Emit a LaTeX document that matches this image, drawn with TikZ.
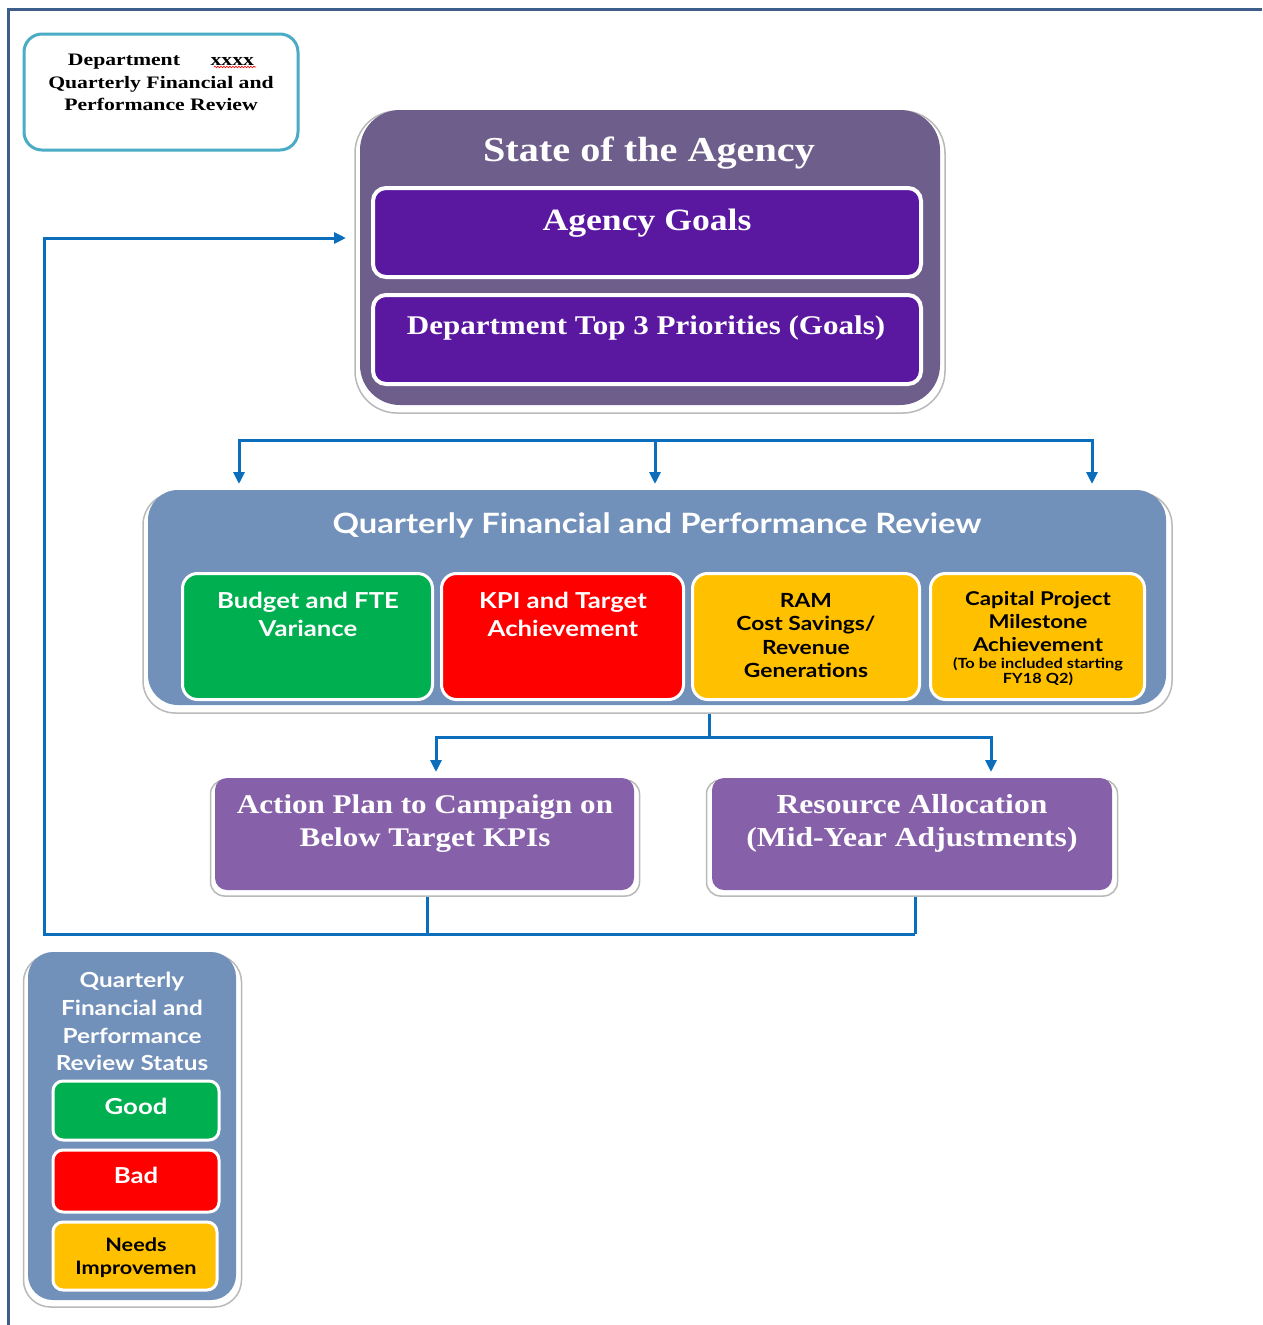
\documentclass[tikz,border=0pt]{standalone}
\usepackage{fontspec}
\setmainfont{Liberation Serif}[FakeStretch=1.15]
\newfontfamily\titleserif{Liberation Serif}[FakeStretch=1.24]
\newfontfamily\gillsans{Lato}[FakeStretch=1.17]
\usetikzlibrary{arrows.meta,decorations.pathmorphing}
\definecolor{frameblue}{HTML}{3D5D8A}
\definecolor{titleblue}{HTML}{4BACC6}
\definecolor{agencyout}{HTML}{6E5E8B}
\definecolor{goalpurple}{HTML}{5A179F}
\definecolor{steel}{HTML}{7190BA}
\definecolor{actpurple}{HTML}{8660A8}
\definecolor{conncol}{HTML}{0A6EBD}
\definecolor{goodgreen}{HTML}{00B050}
\definecolor{badred}{HTML}{FF0000}
\definecolor{needyellow}{HTML}{FFC000}
\tikzset{
  shadowbox/.style={draw=gray!55, line width=1.5pt, fill=white},
  inner/.style={draw=white, line width=4pt, rounded corners=13pt, inner sep=0pt},
  tile/.style={draw=white, line width=3pt, rounded corners=15pt, inner sep=0pt},
  serifw/.style={text=white, font=\bfseries},
  sansw/.style={text=white, font=\gillsans\bfseries},
  sansb/.style={text=black, font=\gillsans\bfseries},
  conn/.style={draw=conncol, line width=3pt},
  tip/.style={-{Triangle[width=11pt,length=12pt]}},
  tips/.style={{Triangle[width=11pt,length=12pt]}-{Triangle[width=11pt,length=12pt]}}
}
\begin{document}
\begin{tikzpicture}[x=1pt,y=-1pt]
\useasboundingbox[fill=white] (0,0) rectangle (1262,1325);
% page frame
\draw[frameblue, line width=3pt] (8,1325) -- (8,9) -- (1262,9);

% title box
\node[draw=titleblue, line width=3pt, rounded corners=18pt, minimum width=274pt, minimum height=116pt] (title) at (161,92) {};
\node[font=\titleserif\bfseries\fontsize{17.5}{22.5}\selectfont, align=center] (titletxt) at (161,82.5) {Department\hspace{1.75em}xxxx\\Quarterly Financial and\\Performance Review};
\coordinate (w1) at (214,67);
\coordinate (w2) at (256,67);
\draw[red, line width=0.6pt, decorate, decoration={snake, amplitude=0.8pt, segment length=3pt}] (w1) -- (w2);

% State of the agency
\node[shadowbox, rounded corners=42pt, minimum width=590pt, minimum height=302pt] (agencysh) at (650,262) {};
\node[fill=agencyout, rounded corners=40pt, minimum width=580pt, minimum height=295pt] (agency) at (650,257.5) {};
\node[serifw, font=\bfseries\fontsize{35}{40}\selectfont] (agencytxt) at (649,153) {State of the Agency};
\node[inner, fill=goalpurple, minimum width=548pt, minimum height=89pt] (goals) at (647,232.5) {};
\node[serifw, font=\bfseries\fontsize{31}{36}\selectfont] (goalstxt) at (647,223) {Agency Goals};
\node[inner, fill=goalpurple, minimum width=548pt, minimum height=89pt] (prio) at (647,339.5) {};
\node[serifw, font=\bfseries\fontsize{27}{32}\selectfont] (priotxt) at (646,328) {Department Top 3 Priorities (Goals)};

% QFPR
\node[shadowbox, rounded corners=32pt, minimum width=1029pt, minimum height=220pt] (qfprsh) at (657.5,603) {};
\node[fill=steel, rounded corners=30pt, minimum width=1018pt, minimum height=215pt] (qfpr) at (657,597.5) {};
\node[sansw, font=\gillsans\bfseries\fontsize{28}{32}\selectfont] (qfprtxt) at (657,525) {Quarterly Financial and Performance Review};
\node[tile, fill=goodgreen, minimum width=250pt, minimum height=126pt] (budget) at (307.5,636.5) {};
\node[sansw, font=\gillsans\bfseries\fontsize{22}{28}\selectfont, align=center] (budgettxt) at (308,614) {Budget and FTE\\Variance};
\node[tile, fill=badred, minimum width=242pt, minimum height=126pt] (kpi) at (562.5,636.5) {};
\node[sansw, font=\gillsans\bfseries\fontsize{22}{28}\selectfont, align=center] (kpitxt) at (563,614) {KPI and Target\\Achievement};
\node[tile, fill=needyellow, minimum width=227pt, minimum height=126pt] (ram) at (806,636.5) {};
\node[sansb, font=\gillsans\bfseries\fontsize{19.5}{23.6}\selectfont, align=center] (ramtxt) at (806,635.5) {RAM\\Cost Savings/\\Revenue\\Generations};
\node[tile, fill=needyellow, minimum width=214pt, minimum height=126pt] (cap) at (1037.5,636.5) {};
\node[sansb, font=\gillsans\bfseries\fontsize{19}{23}\selectfont, align=center] (captxt) at (1038,622) {Capital Project\\Milestone\\Achievement};
\node[sansb, font=\gillsans\bfseries\fontsize{14}{15}\selectfont, align=center] (capnote) at (1038,671.5) {(To be included starting\\FY18 Q2)};

% Action plan & resource allocation
\node[shadowbox, rounded corners=14pt, minimum width=429pt, minimum height=116pt] (actsh) at (425,838) {};
\node[fill=actpurple, rounded corners=12pt, minimum width=419pt, minimum height=112pt] (action) at (424.5,834) {};
\node[serifw, font=\bfseries\fontsize{27}{33}\selectfont, align=center] (actiontxt) at (425,824) {Action Plan to Campaign on\\Below Target KPIs};
\node[shadowbox, rounded corners=14pt, minimum width=411pt, minimum height=116pt] (ressh) at (912,838) {};
\node[fill=actpurple, rounded corners=12pt, minimum width=400pt, minimum height=112pt] (resource) at (912,834) {};
\node[serifw, font=\bfseries\fontsize{27.5}{33}\selectfont, align=center] (resourcetxt) at (912,823.5) {Resource Allocation\\(Mid-Year Adjustments)};

% Legend
\node[shadowbox, rounded corners=27pt, minimum width=218pt, minimum height=352pt] (legsh) at (132.5,1131) {};
\node[fill=steel, rounded corners=25pt, minimum width=208pt, minimum height=348pt] (legend) at (132,1126) {};
\node[sansw, font=\gillsans\bfseries\fontsize{20.8}{27.7}\selectfont, align=center] (legendtxt) at (132,1021.5) {Quarterly\\Financial and\\Performance\\Review Status};
\node[tile, rounded corners=10pt, fill=goodgreen, minimum width=166pt, minimum height=59pt] (good) at (136,1110.5) {};
\node[sansw, font=\gillsans\bfseries\fontsize{22}{26}\selectfont] (goodtxt) at (136,1106) {Good};
\node[tile, rounded corners=10pt, fill=badred, minimum width=166pt, minimum height=62pt] (bad) at (136,1181) {};
\node[sansw, font=\gillsans\bfseries\fontsize{22}{26}\selectfont] (badtxt) at (136,1175) {Bad};
\node[tile, rounded corners=10pt, fill=needyellow, minimum width=164pt, minimum height=68pt] (needs) at (135,1256) {};
\node[sansb, font=\gillsans\bfseries\fontsize{18.5}{23}\selectfont, align=center] (needstxt) at (136,1257.5) {Needs\\Improvemen};

% connectors: top fan-out
\coordinate (t1) at (239,440);
\coordinate (t2) at (655,440);
\coordinate (t3) at (1092,440);
\coordinate (a1) at (239,484);
\coordinate (a2) at (655,484);
\coordinate (a3) at (1092,484);
\draw[conn, tips] (a1) -- (t1) -- (t3) -- (a3);
\draw[conn, tip] (t2) -- (a2);

% connectors: QFPR to action/resource
\coordinate (s1) at (709,737);
\coordinate (b1) at (436,737);
\coordinate (b2) at (991,737);
\coordinate (c1) at (436,772);
\coordinate (c2) at (991,772);
\draw[conn] (qfprsh.south -| s1) -- (s1);
\draw[conn, tips] (c1) -- (b1) -- (b2) -- (c2);

% feedback loop
\coordinate (d1) at (427,934);
\coordinate (d2) at (915,934);
\coordinate (l1) at (44,934);
\coordinate (l2) at (44,238);
\coordinate (l3) at (346,238);
\draw[conn] (actsh.south -| d1) -- (d1);
\draw[conn] (ressh.south -| d2) -- (d2);
\draw[conn, tip] (d2) -- (l1) -- (l2) -- (l3);
\end{tikzpicture}
\end{document}
